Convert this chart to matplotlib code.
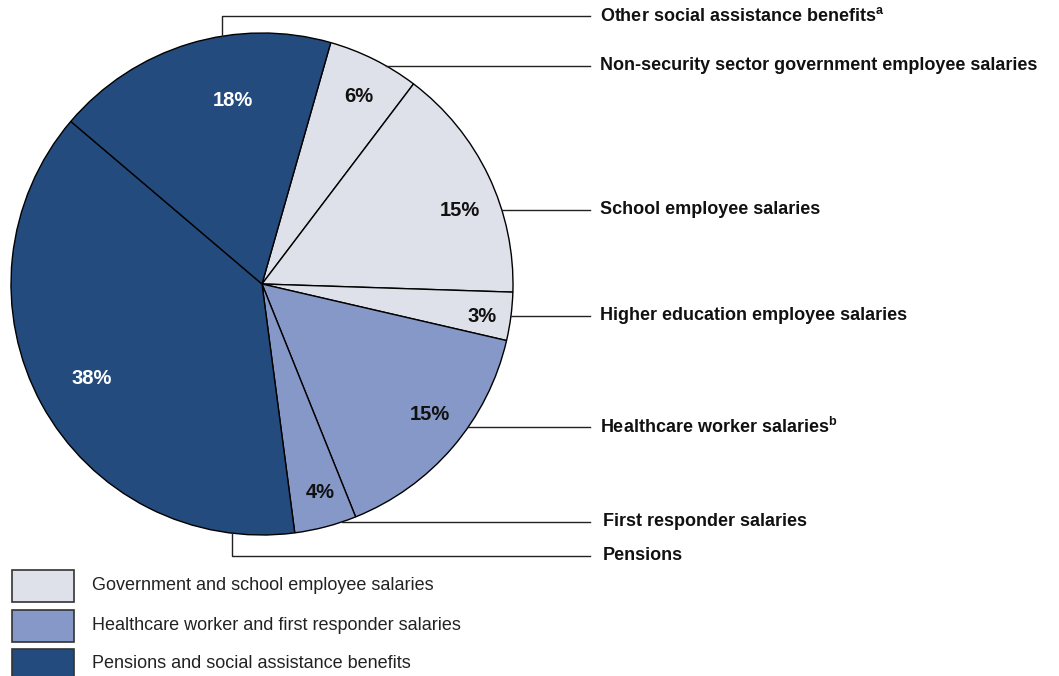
import matplotlib
matplotlib.use("Agg")
import matplotlib.pyplot as plt
import numpy as np
from matplotlib.patches import Rectangle

plt.rcParams["font.family"] = ["Liberation Sans", "DejaVu Sans"]
plt.rcParams["mathtext.fontset"] = "custom"
plt.rcParams["mathtext.rm"] = "Liberation Sans"
plt.rcParams["mathtext.bf"] = "Liberation Sans:bold"

# slices, clockwise from the top
categories = [
    "Non-security sector government employee salaries",
    "School employee salaries",
    "Higher education employee salaries",
    r"Healthcare worker salaries$^{\mathbf{b}}$",
    "First responder salaries",
    "Pensions",
    r"Other social assistance benefits$^{\mathbf{a}}$",
]
shares = [5.9, 15.2, 3.1, 15.3, 4.0, 38.3, 18.2]
groups = [0, 0, 0, 1, 1, 2, 2]

group_names = [
    "Government and school employee salaries",
    "Healthcare worker and first responder salaries",
    "Pensions and social assistance benefits",
]
group_colors = ["#dfe1ea", "#8698c7", "#234b7d"]

W, H = 1059, 676
fig = plt.figure(figsize=(W / 100, H / 100), dpi=100)
ax = fig.add_axes([0, 0, 1, 1])

cx, cy, r = 262, H - 284, 251
wedges, _ = ax.pie(shares, colors=[group_colors[g] for g in groups],
                   startangle=74.1, counterclock=False, center=(cx, cy),
                   radius=r, wedgeprops=dict(edgecolor="black", linewidth=1.0))
ax.set_xlim(0, W)
ax.set_ylim(0, H)
ax.set_aspect("equal")
ax.axis("off")

# percent labels (pixel positions, y from top)
pct_pos = [(359, 97), (460, 210), (482, 316), (430, 414), (320, 493), (92, 378), (233, 100)]
for v, g, (px, py) in zip(shares, groups, pct_pos):
    ax.text(px, H - py, f"{v:.0f}%", ha="center", va="center", fontsize=14.5,
            fontweight="bold", color="white" if g == 2 else "#111111")

# leader lines and category labels
label_y = [66, 210, 316, 427, 522, 556, 16]
label_x = [600, 600, 600, 600, 603, 603, 600]
line_end = 590
for i, (name, ly, lx) in enumerate(zip(categories, label_y, label_x)):
    y = H - ly
    if i == 5:      # pensions: drop down from the bottom edge
        vx = 232
        vy = cy - np.sqrt(r ** 2 - (vx - cx) ** 2)
        ax.plot([vx, vx, line_end], [vy, y, y], color="#222222", lw=1)
    elif i == 6:    # other social assistance: rise from the top edge
        vx = 222
        vy = cy + np.sqrt(r ** 2 - (vx - cx) ** 2)
        ax.plot([vx, vx, line_end], [vy, y, y], color="#222222", lw=1)
    else:
        x0 = cx + np.sqrt(r ** 2 - (y - cy) ** 2)
        ax.plot([x0, line_end], [y, y], color="#222222", lw=1)
    ax.text(lx, y, name, ha="left", va="center", fontsize=13, fontweight="bold",
            color="#111111")

# legend
leg_y = [570, 610, 649]
for name, col, ty in zip(group_names, group_colors, leg_y):
    ax.add_patch(Rectangle((12, H - ty - 32), 62, 32, facecolor=col,
                           edgecolor="#333333", linewidth=1.2))
    ax.text(92, H - ty - 15, name, ha="left", va="center", fontsize=13,
            color="#222222")

fig.savefig("out.png", dpi=100)
